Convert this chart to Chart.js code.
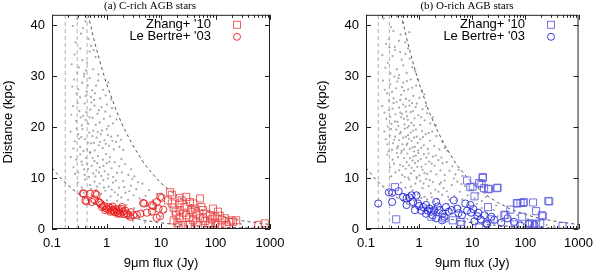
<!DOCTYPE html>
<html>
<head>
<meta charset="utf-8">
<script src="https://cdn.jsdelivr.net/npm/chart.js@4.4.0/dist/chart.umd.min.js"></script>
<style>
  body { margin: 0; background: #fff; }
  .row { display: flex; width: 600px; height: 272px; }
  canvas { display: block; }
</style>
</head>
<body>
<div class="row">
  <canvas id="chartC" width="300" height="272"></canvas>
  <canvas id="chartO" width="300" height="272"></canvas>
</div>
<script>
// ── Axis ticks / labels ───────────────────────
const xTicks  = [0.1, 1, 10, 100, 1000];
const xLabels = ['0.1', '1', '10', '100', '1000'];
const yTicks  = [0, 10, 20, 30, 40];
const legendLabels = ["Zhang+ '10", "Le Bertre+ '03"];

// ── Detection limit curves ─
const outerX = [0.46, 0.6, 0.8, 1, 1.5, 2, 3, 5, 7, 10, 15, 20, 30, 50, 70, 100, 150, 200, 300, 500, 700, 1000];
const outerY = [42, 36.8, 31.9, 28.5, 23.3, 20.2, 16.5, 12.7, 10.8, 9.0, 7.4, 6.4, 5.2, 4.0, 3.4, 2.85, 2.33, 2.0, 1.65, 1.27, 1.08, 0.9];
const lowerX = [0.1, 0.15, 0.2, 0.3, 0.5, 0.7, 1, 2, 3, 5, 10, 20, 50, 100, 200, 500, 1000];
const lowerY = [12.0, 9.8, 8.5, 6.9, 5.4, 4.5, 3.8, 2.7, 2.2, 1.7, 1.2, 0.85, 0.54, 0.38, 0.27, 0.17, 0.12];
const vlinesC = [0.175, 0.29, 0.44];
const vlinesO = [0.17, 0.275];

// ── (a) C-rich ────────────────────────────────
const squaresC = [[14.6,7.2],[15.8,5.0],[22,5.0],[22,3.7],[22,2.1],[21,0.8],[27,4.3],[29,2.7],[34,5.3],[36,3.7],[39,1.7],[45,3.0],[48,0.8],[55,4.3],[59,2.1],[68,3.0],[79,1.1],[97,2.4],[111,3.4],[130,1.7],[149,2.1],[195,1.7],[210,1.4],[240,1.7],[610,0.8],[800,1.1],[18.5,3.4],[17,1.7],[25,0.8],[31,0.8],[52,6.0],[29,6.3],[39,5.0],[90,4.0],[34,0.8],[74,0.8],[160,0.8],[52,2.1],[19,2.7],[42,4.0],[79,2.7],[111,0.8],[24,5.6],[13.5,5.6],[59,3.7],[130,0.8],[180,1.4],[15.8,6.7],[22,6.1],[17,4.2],[26,3.2],[33,2.3],[45,1.3],[65,1.6],[85,1.9],[120,2.6],[100,1.2],[20,1.2],[38,3.3]];
const circlesC = [[0.38,6.9],[0.41,5.6],[0.5,6.9],[0.62,6.9],[0.54,5.3],[0.72,5.3],[0.83,4.3],[0.95,3.7],[1.09,4.3],[1.17,3.4],[1.35,3.7],[1.55,3.4],[1.79,3.0],[1.92,4.3],[2.37,3.0],[2.73,2.4],[3.1,2.7],[4.2,3.0],[4.9,5.0],[6.8,4.7],[8.4,5.3],[6.8,3.4],[9.7,6.3],[9.0,4.0],[4.7,5.1],[7.2,4.5],[10.2,6.1],[9.6,2.5],[11,3.8],[8.3,2.2],[3.6,2.8],[5.5,3.2],[0.37,7.0],[0.66,6.7],[0.43,5.4],[0.76,5.1],[1.0,4.0],[1.1,3.8],[1.2,4.1],[1.25,3.6],[1.4,3.3],[1.5,3.9],[1.65,3.2],[1.7,3.7],[2.0,3.4],[2.1,2.9],[2.2,3.6],[2.5,2.7],[0.9,4.5],[0.8,4.8],[1.3,4.4],[1.6,3.0],[1.9,3.9],[2.8,3.3],[0.6,5.8]];
const cloudC = [[0.29,41.2],[0.37,39.4],[0.47,37.3],[0.27,36.6],[0.52,35.9],[0.34,38.3],[0.41,40.7],[0.24,39.8],
  [0.26,34.2],[0.36,33.1],[0.44,32.6],[0.57,31.3],[0.31,31.7],[0.39,30.4],[0.63,33.7],[0.71,30.3],[0.23,32.3],[0.49,34.8],[0.33,35.4],[0.58,35.1],[0.42,31.1],[0.29,30.6],
  [0.255,29.3],[0.305,27.4],[0.358,28.7],[0.415,26.1],[0.492,29.6],[0.547,27.2],[0.643,28.1],[0.768,25.6],[0.862,27.3],[0.327,25.8],[0.451,28.2],[0.967,26.2],[0.592,25.3],[0.281,26.5],[1.08,28.7],[0.386,29.9],[0.519,25.9],[0.703,29.1],[0.236,27.9],[0.433,27.0],[1.21,25.4],[0.615,26.6],
  [0.243,24.1],[0.276,21.2],[0.318,23.1],[0.371,22.2],[0.398,24.6],[0.462,20.6],[0.503,23.4],[0.558,21.8],[0.604,24.2],[0.684,22.6],[0.747,20.9],[0.812,23.9],[0.893,21.6],[1.02,24.4],[1.16,22.1],[1.31,20.7],[0.352,20.3],[0.428,22.9],[0.634,20.4],[1.52,21.5],[0.226,22.4],[0.296,24.7],[0.487,21.9],[0.531,24.8],[0.726,23.3],[0.947,23.0],[1.09,20.2],[0.413,21.4],[0.336,21.9],[1.26,23.7],
  [0.218,19.1],[0.262,17.2],[0.301,18.6],[0.329,16.1],[0.362,19.6],[0.403,17.6],[0.438,15.6],[0.482,18.9],[0.523,16.8],[0.568,19.3],[0.607,15.4],[0.659,17.9],[0.723,16.4],[0.784,18.6],[0.851,15.9],[0.918,17.4],[1.01,19.6],[1.11,16.3],[1.22,18.1],[1.36,15.6],[1.49,17.1],[1.72,16.1],[2.03,15.5],[0.378,15.3],[0.552,18.2],[0.247,15.8],[0.282,19.7],[0.315,17.7],[0.456,16.9],[0.497,15.1],[0.588,16.9],[0.692,19.0],[0.758,17.1],[0.826,19.3],[0.971,16.7],[1.06,18.4],[1.28,17.3],[1.61,18.3],[1.85,17.5],[0.345,18.0],
  [0.221,14.1],[0.248,12.1],[0.279,13.6],[0.303,11.1],[0.331,14.6],[0.362,12.6],[0.397,10.6],[0.424,13.9],[0.459,11.8],[0.502,14.9],[0.534,12.4],[0.571,10.9],[0.603,13.3],[0.652,11.5],[0.698,14.3],[0.751,12.1],[0.803,10.4],[0.857,13.6],[0.921,11.3],[1.01,12.9],[1.08,10.7],[1.16,14.1],[1.24,11.9],[1.41,13.1],[1.56,11.0],[1.71,12.3],[1.92,11.1],[2.21,12.7],[2.52,10.6],[2.83,11.7],[3.24,10.3],[0.478,10.2],[0.677,12.9],[0.983,14.7],[1.32,10.2],[0.266,10.8],[0.348,13.2],[0.387,11.7],[0.441,12.8],[0.556,13.9],[0.627,10.3],[0.729,11.1],[0.881,12.4],[1.13,13.2],[1.88,13.7],
  [0.296,9.1],[0.351,8.1],[0.404,9.7],[0.447,7.3],[0.498,8.6],[0.553,6.6],[0.601,9.3],[0.648,7.7],[0.703,5.9],[0.749,8.9],[0.806,6.9],[0.876,9.6],[0.952,7.5],[1.02,5.6],[1.09,8.3],[1.19,6.4],[1.31,9.1],[1.42,7.2],[1.57,5.5],[1.69,8.1],[1.86,6.2],[2.02,9.4],[2.23,7.1],[2.49,5.7],[2.81,8.5],[3.13,6.6],[3.52,7.8],[4.03,6.0],[4.56,8.9],[5.21,6.5],[6.05,7.6],[7.1,5.6],[8.4,6.9],[2.97,9.8],[1.06,9.9],[0.383,7.1],[0.522,7.8],[0.672,8.3],[0.9,8.1],[1.25,7.7],[1.48,9.5],[1.62,6.7],[2.12,8.2],[2.62,7.4],[3.8,9.2],
  [0.71,4.6],[0.86,3.9],[1.03,4.9],[1.21,3.4],[1.43,4.3],[1.61,2.9],[1.93,3.8],[2.32,4.7],[2.71,3.2],[3.22,4.1],[3.83,2.7],[4.52,3.6],[5.53,4.5],[6.52,2.9],[8.1,3.9],[10.2,2.5],[12.1,3.3],[15.2,4.4],[18.3,2.3],[25.4,3.1],[35.2,2.6],[49,1.9],[71,2.3],[102,1.6],[148,1.3],[3.05,1.6],[5.1,1.3],[20.5,1.2],[41,0.9],[205,0.8],[290,1.0],[0.6,4.9],[1.75,4.6],[2.55,2.2],[7.2,4.8]];

// ── (b) O-rich ────────────────────────────────
const squaresO = [[0.35,8.2],[0.37,1.9],[1.7,2.4],[3.0,2.1],[8.0,9.5],[9.2,8.2],[6.0,1.4],[4.3,1.7],[10.2,8.3],[13.5,9.0],[15.6,10.0],[16.7,8.0],[20.6,7.8],[29,8.0],[69,5.1],[91,5.1],[139,5.2],[281,5.4],[213,2.5],[42,2.8],[22,1.9],[13.5,0.3],[121,0.9],[159,0.9],[500,0.6],[11,6.4],[52,3.8],[159,3.5],[6.2,0.9],[63,0.9],[15.9,10.2],[14.9,8.9],[19.8,7.9],[30,8.1],[71,5.0],[81,5.1],[93,5.3],[270,5.5],[204,2.7],[19.8,4.3],[40,2.7],[87,2.4],[134,1.1],[190,1.1]];
const circlesO = [[0.17,5.0],[0.27,7.2],[0.31,7.1],[0.41,7.4],[0.31,5.3],[0.5,6.3],[0.58,6.0],[0.72,6.6],[0.89,6.6],[0.77,5.3],[0.95,5.0],[1.19,4.3],[1.35,4.7],[1.56,4.0],[1.67,3.4],[1.93,3.7],[2.1,5.3],[2.4,3.7],[2.7,1.7],[3.2,4.3],[3.6,3.4],[4.1,3.7],[5.2,4.0],[6.4,2.7],[7.4,5.0],[9.2,4.7],[1.8,2.7],[1.35,3.0],[0.83,3.7],[0.58,4.7],[4.5,5.6],[2.1,2.1],[12.5,2.5],[14.4,1.9],[19,0.9],[9.5,3.2],[17,2.7],[23,2.4],[13,3.2],[61,1.4],[115,1.1],[148,0.8],[18.5,1.1],[46,2.1],[1.0,4.5],[1.1,3.6],[2.8,3.0],[3.0,2.4],[5.5,3.1],[8,3.6],[10.5,3.9],[11,1.5],[26,1.8],[35,1.2],[80,0.7],[0.65,6.2],[1.45,3.6],[2.25,4.4]];
const cloudO = [[0.215,41.3],[0.296,39.6],[0.382,41.7],[0.447,38.1],[0.268,37.2],[0.547,36.6],[0.348,35.7],[0.653,38.6],[0.238,36.3],[0.498,40.4],[0.327,38.8],[0.414,36.9],
  [0.203,34.1],[0.258,32.6],[0.317,33.9],[0.379,31.3],[0.438,34.7],[0.503,32.1],[0.583,30.6],[0.662,33.4],[0.748,31.7],[0.289,30.5],[0.421,30.2],[0.846,30.9],[0.231,31.6],[0.552,34.3],[0.352,35.1],[0.469,33.2],[0.617,35.4],[0.276,35.6],
  [0.208,29.1],[0.248,26.6],[0.287,28.4],[0.331,25.6],[0.369,27.6],[0.408,29.6],[0.458,26.3],[0.502,28.7],[0.563,25.5],[0.621,27.4],[0.698,29.3],[0.783,26.1],[0.879,28.1],[1.01,25.7],[1.12,27.2],[0.342,29.9],[0.521,27.1],[0.652,25.2],[1.26,26.4],[0.441,25.3],[0.226,27.3],[0.309,26.9],[0.387,28.9],[0.476,27.8],[0.588,29.0],[0.741,27.7],[0.942,29.4],[0.268,25.2],
  [0.202,24.1],[0.241,21.6],[0.272,23.3],[0.302,20.6],[0.329,24.7],[0.361,22.5],[0.392,21.0],[0.418,23.8],[0.461,21.9],[0.498,24.4],[0.532,20.5],[0.571,23.0],[0.612,21.4],[0.658,24.2],[0.713,20.8],[0.762,23.1],[0.821,21.7],[0.903,24.6],[0.968,22.3],[1.05,20.4],[1.16,23.5],[1.27,21.3],[1.41,22.7],[1.62,20.7],[1.81,21.9],[0.482,22.6],[0.641,20.2],[0.863,23.9],[0.352,21.1],[2.08,20.3],[0.223,22.8],[0.256,20.1],[0.286,22.0],[0.315,23.6],[0.377,24.9],[0.405,20.2],[0.442,22.8],[0.517,21.6],[0.553,24.0],[0.592,22.1],[0.689,22.9],[0.735,24.7],[0.792,20.3],[1.09,21.9],[1.35,24.1],
  [0.221,19.1],[0.252,16.6],[0.281,18.3],[0.309,15.5],[0.338,17.5],[0.371,19.5],[0.401,16.2],[0.432,18.7],[0.468,15.3],[0.503,17.9],[0.538,19.7],[0.582,16.5],[0.621,18.4],[0.668,15.7],[0.721,17.3],[0.772,19.3],[0.831,16.1],[0.902,18.1],[0.968,15.4],[1.05,17.6],[1.13,19.2],[1.22,16.4],[1.33,18.6],[1.46,15.7],[1.61,17.3],[1.76,19.1],[1.91,16.3],[2.12,18.2],[2.41,15.6],[2.72,17.1],[3.02,15.9],[0.603,19.9],[0.798,15.2],[1.1,15.9],[3.41,15.3],[0.236,17.6],[0.266,15.2],[0.296,19.6],[0.323,16.8],[0.355,18.1],[0.386,15.8],[0.417,17.4],[0.451,19.0],[0.486,16.6],[0.521,15.6],[0.561,18.1],[0.601,16.8],[0.643,17.7],[0.695,18.9],[0.748,16.0],[0.806,17.9],[0.872,19.5],[0.935,16.9],[1.18,18.0],[1.52,18.8],
  [0.251,14.6],[0.282,12.1],[0.318,13.6],[0.359,11.1],[0.398,14.1],[0.437,12.6],[0.478,10.6],[0.518,13.9],[0.558,11.8],[0.602,14.8],[0.648,12.5],[0.701,10.9],[0.752,13.4],[0.803,11.4],[0.861,14.4],[0.923,12.2],[1.01,10.5],[1.07,13.7],[1.16,11.6],[1.23,14.7],[1.32,12.7],[1.42,10.8],[1.53,13.2],[1.66,11.3],[1.81,14.2],[1.96,12.4],[2.11,10.7],[2.31,13.5],[2.52,11.5],[2.76,12.9],[3.02,10.6],[3.31,13.1],[3.72,11.4],[4.21,12.3],[4.82,10.7],[5.53,11.6],[0.462,14.9],[0.971,14.9],[1.51,14.8],[6.52,10.4],[0.298,10.3],[0.337,12.8],[0.381,14.9],[0.421,11.5],[0.497,12.3],[0.538,10.2],[0.583,13.1],[0.626,10.1],[0.675,13.9],[0.726,12.0],[0.782,14.2],[0.836,12.9],[0.895,10.2],[0.952,13.3],[1.11,12.2],[1.26,11.0],[1.37,14.0],[1.72,12.8],[2.05,14.4],[2.62,14.0],
  [0.452,9.1],[0.551,8.1],[0.652,9.7],[0.752,7.6],[0.852,8.9],[0.948,6.9],[1.05,9.4],[1.16,8.0],[1.26,6.3],[1.36,9.8],[1.51,8.4],[1.66,7.0],[1.81,9.2],[2.01,7.7],[2.21,5.9],[2.42,8.8],[2.71,6.7],[3.02,9.5],[3.32,7.4],[3.72,5.7],[4.12,8.6],[4.62,6.5],[5.22,9.3],[5.82,7.3],[6.52,5.8],[7.32,8.4],[8.22,6.6],[9.52,7.7],[11.1,6.0],[13.1,7.0],[15.1,5.5],[18.1,6.3],[0.603,5.9],[1.91,5.4],[4.52,9.9],[0.52,6.8],[0.701,8.3],[0.802,5.6],[0.9,9.9],[1.1,6.1],[1.21,8.9],[1.42,5.8],[1.58,9.6],[1.73,6.2],[2.32,7.3],[2.58,9.1],[2.88,8.0],[3.52,6.3],[5.02,5.6],[6.22,8.8],
  [1.52,4.7],[2.03,3.5],[2.52,4.3],[3.02,2.9],[3.52,4.9],[4.03,3.7],[5.02,2.6],[6.03,4.2],[7.02,3.2],[8.03,2.0],[9.02,4.6],[11.1,3.4],[13.1,2.3],[15.1,4.1],[18.2,3.0],[21.1,1.7],[25.2,3.7],[30.2,2.5],[36.1,1.5],[45.2,3.1],[55.1,2.0],[70.2,2.7],[85.1,1.3],[110,1.9],[140,1.0],[180,1.5],[250,0.8],[350,0.6],[28.1,4.6],[12.1,4.9],[1.25,4.4],[1.8,4.1],[2.3,2.6],[4.6,4.4],[9.8,1.4]];

// ── Helpers ───────────────────────────────────
const toXY = arr => arr.map(p => ({ x: p[0], y: p[1] }));
const zipXY = (xs, ys) => xs.map((v, i) => ({ x: v, y: ys[i] }));
const SANS = '"Liberation Sans", Arial, Helvetica, sans-serif';

// frame, inward ticks, inner legend and serif title
const decor = {
  id: 'decor',
  afterDatasetsDraw(chart, args, opts) {
    const { ctx, chartArea: a, scales: { x, y } } = chart;
    ctx.save();
    ctx.strokeStyle = '#222';
    ctx.lineWidth = 1;
    ctx.strokeRect(a.left + 0.5, a.top + 0.5, a.right - a.left - 1, a.bottom - a.top - 1);

    ctx.beginPath();
    const xt = (v, len) => {
      const px = Math.round(x.getPixelForValue(v)) + 0.5;
      ctx.moveTo(px, a.bottom); ctx.lineTo(px, a.bottom - len);
      ctx.moveTo(px, a.top);    ctx.lineTo(px, a.top + len);
    };
    xTicks.forEach(v => xt(v, 5));
    xTicks.slice(0, -1).forEach(d => { for (let m = 2; m < 10; m++) xt(m * d, 3); });
    yTicks.forEach(v => {
      const py = Math.round(y.getPixelForValue(v)) + 0.5;
      ctx.moveTo(a.left, py);  ctx.lineTo(a.left + 5, py);
      ctx.moveTo(a.right, py); ctx.lineTo(a.right - 5, py);
    });
    ctx.stroke();

    // legend
    ctx.fillStyle = '#000';
    ctx.font = '13px ' + SANS;
    ctx.textAlign = 'right';
    ctx.textBaseline = 'middle';
    ctx.fillText(legendLabels[0], a.left + 159, a.top + 10);
    ctx.fillText(legendLabels[1], a.left + 159, a.top + 22);
    ctx.strokeStyle = opts.squareColor;
    ctx.strokeRect(a.left + 181.5, a.top + 6.5, 7, 7);
    ctx.strokeStyle = opts.circleColor;
    ctx.beginPath();
    ctx.arc(a.left + 185, a.top + 22, 3.5, 0, Math.PI * 2);
    ctx.stroke();

    // panel title
    ctx.font = '11px "Liberation Serif", "Times New Roman", serif';
    ctx.textAlign = 'center';
    ctx.fillText(opts.title, opts.titleX, 6);
    ctx.restore();
  }
};

function makeChart(id, p) {
  const curve = (data) => ({
    data, showLine: true, pointRadius: 0, borderColor: '#555', borderWidth: 1,
    borderDash: [3, 3], fill: false, order: 1
  });
  const vline = v => ({
    data: [{ x: v, y: 0 }, { x: v, y: 42 }], showLine: true, pointRadius: 0,
    borderColor: '#b0b0b0', borderWidth: 1, borderDash: [4, 3], order: 1
  });

  new Chart(document.getElementById(id), {
    type: 'scatter',
    data: {
      datasets: [
        { label: legendLabels[0], data: toXY(p.squares), pointStyle: 'rect', pointRadius: 5,
          borderColor: p.squareColor, backgroundColor: 'transparent', borderWidth: 1, order: 0 },
        { label: legendLabels[1], data: toXY(p.circles), pointStyle: 'circle', pointRadius: 3.6,
          borderColor: p.circleColor, backgroundColor: 'transparent', borderWidth: 1, order: 0 },
        curve(zipXY(outerX, outerY)),
        curve(zipXY(lowerX, lowerY)),
        ...p.vlines.map(vline),
        { data: toXY(p.cloud), pointRadius: 1.1, borderWidth: 0,
          backgroundColor: 'rgba(80,80,80,0.5)', order: 2 }
      ]
    },
    options: {
      responsive: false,
      animation: false,
      events: [],
      layout: { padding: { left: p.padLeft, right: p.padRight, top: 13, bottom: 0 } },
      plugins: {
        legend: { display: false },
        tooltip: { enabled: false },
        decor: { title: p.title, titleX: p.titleX, squareColor: p.squareColor, circleColor: p.circleColor }
      },
      scales: {
        x: {
          type: 'logarithmic', min: 0.1, max: 1000,
          afterBuildTicks: s => { s.ticks = xTicks.map(v => ({ value: v })); },
          afterFit: s => { s.height = 43; },
          grid: { display: false, drawTicks: false },
          border: { display: false },
          ticks: { autoSkip: false, maxRotation: 0, padding: 7, color: '#000',
                   font: { size: 13, family: SANS }, callback: (v, i) => xLabels[i] },
          title: { display: true, text: '9μm flux (Jy)', color: '#000',
                   font: { size: 13, family: SANS }, padding: { top: 0, bottom: 1 } }
        },
        y: {
          type: 'linear', min: 0, max: 42,
          afterBuildTicks: s => { s.ticks = yTicks.map(v => ({ value: v })); },
          afterFit: s => { s.width = 52; },
          grid: { display: false, drawTicks: false },
          border: { display: false },
          ticks: { padding: 7, color: '#000', font: { size: 13, family: SANS } },
          title: { display: true, text: 'Distance (kpc)', color: '#000',
                   font: { size: 13, family: SANS }, padding: { top: 1, bottom: 0 } }
        }
      }
    },
    plugins: [decor]
  });
}

makeChart('chartC', {
  title: '(a) C-rich AGB stars', titleX: 150, padLeft: 0, padRight: 30,
  squares: squaresC, circles: circlesC, cloud: cloudC, vlines: vlinesC,
  squareColor: 'rgba(235,70,70,0.85)', circleColor: 'rgba(235,30,30,0.9)'
});
makeChart('chartO', {
  title: '(b) O-rich AGB stars', titleX: 167, padLeft: 14, padRight: 17,
  squares: squaresO, circles: circlesO, cloud: cloudO, vlines: vlinesO,
  squareColor: 'rgba(90,90,225,0.85)', circleColor: 'rgba(40,40,220,0.9)'
});
</script>
</body>
</html>
